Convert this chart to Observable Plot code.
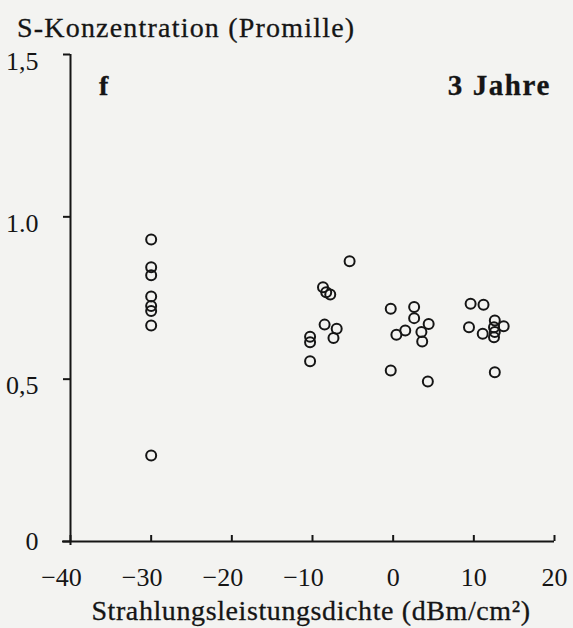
<!DOCTYPE html>
<html><head><meta charset="utf-8">
<script src="https://cdn.jsdelivr.net/npm/d3@7"></script>
<script src="https://cdn.jsdelivr.net/npm/@observablehq/plot@0.6"></script>
<style>
html,body{margin:0;padding:0;background:#f3f3f1;}
#wrap{position:relative;width:573px;height:628px;font-family:"Liberation Serif","Times New Roman",serif;color:#151515;overflow:hidden;}
#wrap svg{position:absolute;left:0;top:0;}
.lbl{position:absolute;white-space:nowrap;line-height:1;-webkit-text-stroke:0.3px #151515;}
</style></head><body>
<div id="wrap">
  <div class="lbl" style="left:17px;top:14px;font-size:28px;letter-spacing:1.2px">S-Konzentration (Promille)</div>
  <div class="lbl" style="left:99px;top:72px;font-size:28px;font-weight:bold">f</div>
  <div class="lbl" style="right:22px;top:71px;font-size:29px;font-weight:bold;letter-spacing:1.6px">3 Jahre</div>
  <div class="lbl" style="left:311px;top:597px;font-size:28px;letter-spacing:0.6px;transform:translateX(-50%)">Strahlungsleistungsdichte (dBm/cm²)</div>
</div>
<script>
// Data
const powerDensity = [
  -30, -30, -30, -30, -30, -30, -30, -30,
  -5.4, -8.7, -8.3, -7.8, -8.5, -7.0, -7.4, -10.3, -10.3, -10.3,
  -0.3, 2.6, 2.6, 4.4, 1.5, 0.4, 3.5, 3.6, -0.3, 4.3,
  9.6, 11.2, 9.4, 11.1, 12.6, 13.7, 12.5, 12.6, 12.5, 12.6
];
const sConcentration = [
  0.93, 0.845, 0.82, 0.755, 0.725, 0.71, 0.665, 0.265,
  0.863, 0.783, 0.768, 0.761, 0.668, 0.655, 0.627, 0.631, 0.614, 0.555,
  0.717, 0.722, 0.688, 0.670, 0.650, 0.637, 0.645, 0.616, 0.527, 0.493,
  0.732, 0.729, 0.660, 0.640, 0.681, 0.663, 0.660, 0.645, 0.629, 0.521
];
const xTicks = [-40, -30, -20, -10, 0, 10, 20];
const xTickLabels = ["−40", "−30", "−20", "−10", "0", "10", "20"];
const yTicks = [0, 0.5, 1.0, 1.5];
const yTickLabels = ["0", "0,5", "1.0", "1,5"];

const points = powerDensity.map((x, i) => ({x, y: sConcentration[i]}));
const ink = "#151515";
const fmtX = d => xTickLabels[xTicks.indexOf(d)];
const fmtY = d => yTickLabels[yTicks.indexOf(d)];
const textStyle = {fill: ink, stroke: ink, strokeWidth: 0.3};

const chart = Plot.plot({
  width: 573,
  height: 628,
  marginLeft: 70,
  marginRight: 19,
  marginTop: 54,
  marginBottom: 87,
  style: {fontFamily: "'Liberation Serif', 'Times New Roman', serif", fontSize: "26px", color: ink, background: "transparent", overflow: "visible"},
  x: {domain: [-40, 20]},
  y: {domain: [0, 1.5]},
  marks: [
    Plot.ruleY([0], {insetLeft: -8, stroke: ink, strokeWidth: 2}),
    Plot.ruleX([-40], {insetBottom: -4, stroke: ink, strokeWidth: 2}),
    Plot.ruleX(xTicks, {x: d => d, y1: 0, y2: 0, insetBottom: 6, stroke: ink, strokeWidth: 2}),
    Plot.ruleY(yTicks, {y: d => d, x1: -40, x2: -40, insetLeft: -7, stroke: ink, strokeWidth: 2}),
    Plot.axisX({ticks: xTicks.filter(d => d < 0), tickSize: 0, tickPadding: 26, dx: -9, tickFormat: fmtX, label: null, ...textStyle}),
    Plot.axisX({ticks: xTicks.filter(d => d >= 0), tickSize: 0, tickPadding: 26, tickFormat: fmtX, label: null, ...textStyle}),
    Plot.axisY({ticks: yTicks.filter(d => d > 0), tickSize: 0, tickPadding: 32, dy: 7, tickFormat: fmtY, label: null, ...textStyle}),
    Plot.axisY({ticks: yTicks.filter(d => d === 0), tickSize: 0, tickPadding: 32, dy: 0, tickFormat: fmtY, label: null, ...textStyle}),
    Plot.dot(points, {x: "x", y: "y", r: 5, stroke: ink, strokeWidth: 2, fill: "none"})
  ]
});
document.getElementById("wrap").prepend(chart);
</script>
</body></html>
